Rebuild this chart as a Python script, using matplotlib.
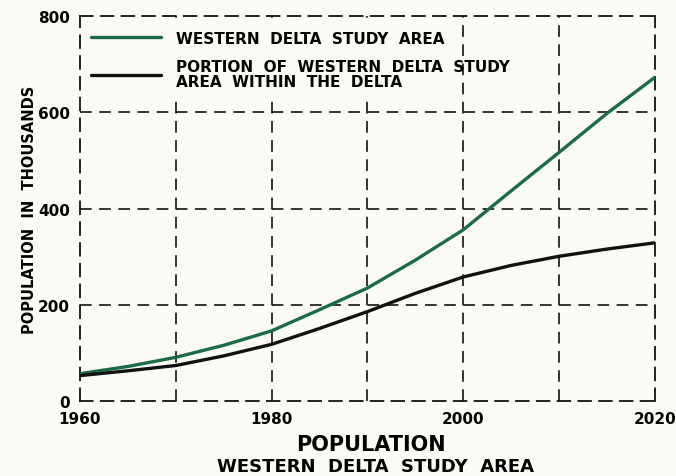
import matplotlib
matplotlib.use("Agg")
import matplotlib.pyplot as plt
from matplotlib.patches import Rectangle

# values (thousands of people)
years = [1960, 1965, 1970, 1975, 1980, 1985, 1990, 1995, 2000, 2005, 2010, 2015, 2020]
study_area = [57, 72, 91, 116, 146, 190, 235, 293, 356, 437, 517, 598, 673]
within_delta = [53, 63, 74, 94, 118, 151, 186, 224, 258, 282, 301, 316, 329]

labels = ["WESTERN  DELTA  STUDY  AREA",
          "PORTION  OF  WESTERN  DELTA  STUDY\nAREA  WITHIN  THE  DELTA"]

bg = "#fbfaf4"
green = "#1b6b46"
ink = "#111111"
dash = (0, (7, 4.5))

plt.rcParams['font.family'] = ['DejaVu Sans']
plt.rcParams['font.weight'] = 'bold'

fig = plt.figure(figsize=(6.76, 4.77), dpi=100, facecolor=bg)
ax = fig.add_axes([0.1183, 0.157, 0.8505, 0.807])
ax.set_facecolor(bg)

ax.plot(years, study_area, color=green, lw=2.4, label=labels[0],
        solid_capstyle='round', solid_joinstyle='round', zorder=3)
ax.plot(years, within_delta, color=ink, lw=2.4, label=labels[1],
        solid_capstyle='round', solid_joinstyle='round', zorder=3)

ax.set_xlim(1960, 2020)
ax.set_ylim(0, 800)
ax.set_xticks([1960, 1980, 2000, 2020])
ax.set_xticks([1970, 1990, 2010], minor=True)
ax.set_yticks([0, 200, 400, 600, 800])
ax.grid(True, which='both', color=ink, lw=1.2, linestyle=dash)
ax.set_axisbelow(True)
# edge gridlines sit on the spines - hide them so the dashes stay clean
for ticks in (ax.xaxis.get_major_ticks(), ax.yaxis.get_major_ticks()):
    ticks[0].gridline.set_visible(False)
    ticks[-1].gridline.set_visible(False)
for sp in ax.spines.values():
    sp.set_linestyle(dash)
    sp.set_linewidth(1.3)
    sp.set_color(ink)
ax.tick_params(which='both', length=0, labelsize=11, pad=7)
for t in ax.get_xticklabels() + ax.get_yticklabels():
    t.set_fontweight('bold')

ax.set_ylabel("POPULATION  IN  THOUSANDS", fontsize=10.5, fontweight='bold', labelpad=1)

# blank patch behind legend text (covers grid only on the left part)
ax.add_patch(Rectangle((0.0, 0.795), 0.655, 0.185, transform=ax.transAxes,
                       facecolor=bg, edgecolor='none', zorder=1))
leg = ax.legend(loc='upper left', bbox_to_anchor=(0.0, 0.99), fontsize=11,
                handlelength=4.6, handletextpad=1.0, labelspacing=0.9,
                frameon=False, borderpad=0.5, borderaxespad=0.2)
for t in leg.get_texts():
    t.set_fontweight('bold')
    t.set_linespacing(0.95)

fig.text(0.548, 0.067, "POPULATION", fontsize=15, fontweight='bold', ha='center', va='center')
fig.text(0.556, 0.021, "WESTERN  DELTA  STUDY  AREA", fontsize=13, fontweight='bold',
         ha='center', va='center')

fig.savefig("out.png", dpi=100, facecolor=bg)
